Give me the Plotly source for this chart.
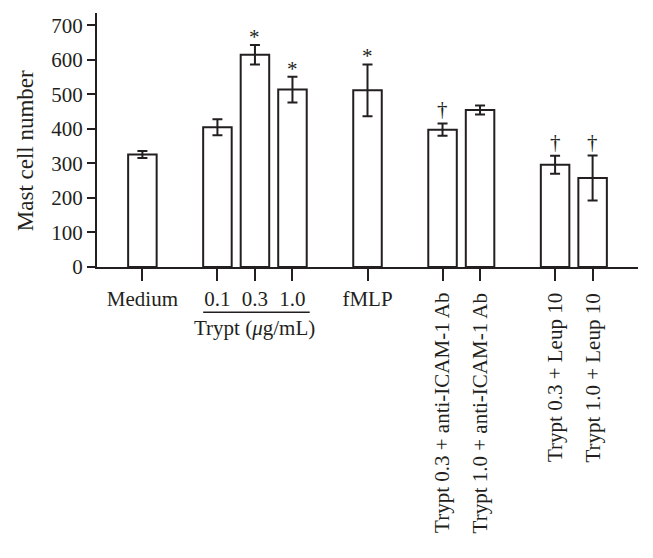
import plotly.graph_objects as go

# bar groups
labels = ["Medium", "0.1", "0.3", "1.0", "fMLP",
          "Trypt 0.3 + anti-ICAM-1 Ab", "Trypt 1.0 + anti-ICAM-1 Ab",
          "Trypt 0.3 + Leup 10", "Trypt 1.0 + Leup 10"]
x_pos = [0, 2, 3, 4, 6, 8, 9, 11, 12]
values = [326, 405, 615, 514, 512, 398, 455, 296, 258]
errors = [10, 23, 28, 37, 75, 18, 13, 26, 65]
marks = ["", "", "*", "*", "*", "\u2020", "", "\u2020", "\u2020"]
vertical = [False, False, False, False, False, True, True, True, True]

FONT = "Liberation Serif"
INK = "#231f20"
BAR_W = 0.76

fig = go.Figure()
fig.add_trace(go.Bar(
    x=x_pos, y=values, width=BAR_W,
    marker=dict(color="white", line=dict(color=INK, width=2)),
    error_y=dict(type="data", array=errors, color=INK, thickness=2, width=5),
    showlegend=False,
))

# significance marks above error bars
for x, v, e, m in zip(x_pos, values, errors, marks):
    if m:
        fig.add_annotation(x=x, y=v + e, text=m, showarrow=False, yanchor="bottom",
                           yshift=-6 if m == "*" else 0,
                           font=dict(family=FONT, size=21, color=INK))

# rotated category labels
for x, lab, vert in zip(x_pos, labels, vertical):
    if vert:
        fig.add_annotation(x=x, y=-0.096, xref="x", yref="paper", text=lab,
                           textangle=-90, showarrow=False, yanchor="top",
                           font=dict(family=FONT, size=21, color=INK))

# Trypt group bracket and label
fig.add_shape(type="line", xref="x", yref="paper",
              x0=x_pos[1] - BAR_W / 2, x1=x_pos[3] + BAR_W / 2 + 0.08, y0=-0.178, y1=-0.178,
              line=dict(color=INK, width=1.5))
fig.add_annotation(x=x_pos[2], y=-0.242, xref="x", yref="paper",
                   text="Trypt (<i>\u03bc</i>g/mL)", showarrow=False, yanchor="middle",
                   font=dict(family=FONT, size=21, color=INK))

# y axis title, sits a little below the plot centre in the original
fig.add_annotation(x=-0.133, y=0.456, xref="paper", yref="paper", text="Mast cell number",
                   textangle=-90, showarrow=False, xanchor="center", yanchor="middle",
                   font=dict(family=FONT, size=23, color=INK))

# page body has an 8px margin, so the figure is 8px smaller each way
fig.update_layout(
    width=645, height=550,
    margin=dict(l=89, r=15, t=5, b=291),
    plot_bgcolor="white", paper_bgcolor="white",
    font=dict(family=FONT, size=21, color=INK),
    xaxis=dict(range=[-1.21, 13.21], tickvals=x_pos,
               ticktext=[l if not v else "" for l, v in zip(labels, vertical)],
               ticks="outside", ticklen=12, tickwidth=2, tickcolor=INK,
               showline=True, linecolor=INK, linewidth=2,
               showgrid=False, zeroline=False, automargin=False),
    yaxis=dict(range=[0, 736], tickvals=[0, 100, 200, 300, 400, 500, 600, 700],
               ticks="outside", ticklen=8, tickwidth=2, tickcolor=INK,
               showline=True, linecolor=INK, linewidth=2,
               showgrid=False, zeroline=False, automargin=False),
)

fig.write_html("out.html")
